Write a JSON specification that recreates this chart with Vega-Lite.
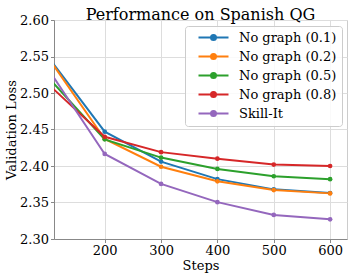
{
  "$schema": "https://vega.github.io/schema/vega-lite/v6.json",
  "autosize": "none",
  "padding": {"left": 54, "top": 20, "right": 5, "bottom": 38},
  "width": 293,
  "height": 219,
  "title": {"text": "Performance on Spanish QG", "font": "DejaVu Serif", "fontSize": 16, "fontWeight": "normal", "color": "#000", "offset": -9},
  "config": {
    "view": {"stroke": "#cccccc", "strokeWidth": 1},
    "font": "DejaVu Serif"
  },
  "data": {"values": [
    {"s": "No graph (0.1)", "step": 100, "loss": 2.549},
    {"s": "No graph (0.1)", "step": 200, "loss": 2.447},
    {"s": "No graph (0.1)", "step": 300, "loss": 2.406},
    {"s": "No graph (0.1)", "step": 400, "loss": 2.382},
    {"s": "No graph (0.1)", "step": 500, "loss": 2.368},
    {"s": "No graph (0.1)", "step": 600, "loss": 2.363},
    {"s": "No graph (0.2)", "step": 100, "loss": 2.548},
    {"s": "No graph (0.2)", "step": 200, "loss": 2.437},
    {"s": "No graph (0.2)", "step": 300, "loss": 2.399},
    {"s": "No graph (0.2)", "step": 400, "loss": 2.379},
    {"s": "No graph (0.2)", "step": 500, "loss": 2.367},
    {"s": "No graph (0.2)", "step": 600, "loss": 2.3625},
    {"s": "No graph (0.5)", "step": 100, "loss": 2.521},
    {"s": "No graph (0.5)", "step": 200, "loss": 2.4365},
    {"s": "No graph (0.5)", "step": 300, "loss": 2.4115},
    {"s": "No graph (0.5)", "step": 400, "loss": 2.396},
    {"s": "No graph (0.5)", "step": 500, "loss": 2.386},
    {"s": "No graph (0.5)", "step": 600, "loss": 2.382},
    {"s": "No graph (0.8)", "step": 100, "loss": 2.512},
    {"s": "No graph (0.8)", "step": 200, "loss": 2.440},
    {"s": "No graph (0.8)", "step": 300, "loss": 2.419},
    {"s": "No graph (0.8)", "step": 400, "loss": 2.410},
    {"s": "No graph (0.8)", "step": 500, "loss": 2.402},
    {"s": "No graph (0.8)", "step": 600, "loss": 2.400},
    {"s": "Skill-It", "step": 100, "loss": 2.5325},
    {"s": "Skill-It", "step": 200, "loss": 2.4165},
    {"s": "Skill-It", "step": 300, "loss": 2.3755},
    {"s": "Skill-It", "step": 400, "loss": 2.3505},
    {"s": "Skill-It", "step": 500, "loss": 2.333},
    {"s": "Skill-It", "step": 600, "loss": 2.327}
  ]},
  "encoding": {
    "x": {"field": "step", "type": "quantitative",
      "scale": {"domain": [110, 630], "nice": false, "zero": false},
      "axis": {"values": [200, 300, 400, 500, 600], "title": "Steps", "titleFont": "DejaVu Serif", "titleFontSize": 13, "titleFontWeight": "normal", "titleColor": "#000", "titlePadding": 2,
        "labelFont": "DejaVu Serif", "labelFontSize": 13, "labelColor": "#000", "labelPadding": 2, "tickSize": 3.5, "tickColor": "#888", "domainColor": "#888", "gridColor": "#dddddd", "labelFlush": false}},
    "y": {"field": "loss", "type": "quantitative",
      "scale": {"domain": [2.30, 2.60], "nice": false, "zero": false},
      "axis": {"values": [2.30, 2.35, 2.40, 2.45, 2.50, 2.55, 2.60], "format": ".2f", "title": "Validation Loss", "titleFont": "DejaVu Serif", "titleFontSize": 13, "titleFontWeight": "normal", "titleColor": "#000", "titlePadding": 1,
        "labelFont": "DejaVu Serif", "labelFontSize": 13, "labelColor": "#000", "labelPadding": 2, "tickSize": 3.5, "tickColor": "#888", "domainColor": "#888", "gridColor": "#dddddd", "labelFlush": false}},
    "color": {"field": "s", "type": "nominal",
      "scale": {"domain": ["No graph (0.1)", "No graph (0.2)", "No graph (0.5)", "No graph (0.8)", "Skill-It"],
        "range": ["#1f77b4", "#ff7f0e", "#2ca02c", "#d62728", "#9467bd"]},
      "legend": {"title": null, "orient": "none", "legendX": 131, "legendY": 6,
        "symbolType": "M-3,0H3M-0.5,0A0.5,0.5,0,1,0,0.5,0A0.5,0.5,0,1,0,-0.5,0Z",
        "symbolSize": 100, "symbolStrokeWidth": 2, "symbolOffset": 17, "labelOffset": 19,
        "labelFont": "DejaVu Serif", "labelFontSize": 13, "labelColor": "#000",
        "rowPadding": 5, "padding": 5, "strokeColor": "#cccccc", "fillColor": "rgba(255,255,255,0.85)", "cornerRadius": 3}}
  },
  "layer": [
    {"mark": {"type": "line", "strokeWidth": 2, "clip": true}},
    {"mark": {"type": "point", "filled": true, "size": 22, "opacity": 1, "clip": true}}
  ]
}
